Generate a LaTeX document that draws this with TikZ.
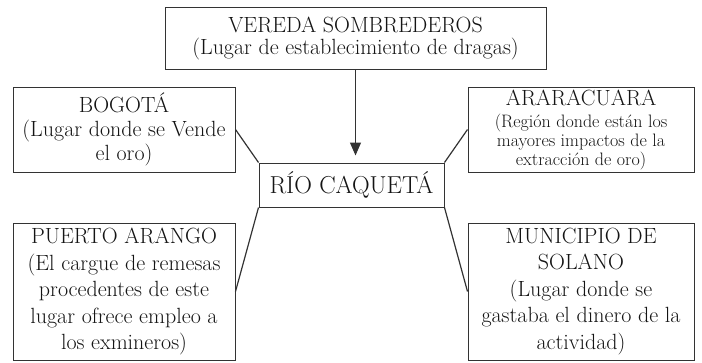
\documentclass[tikz,border=0pt]{standalone}
\usetikzlibrary{arrows.meta}

\tikzset{every picture/.style={line width=1pt}}
\tikzset{
  lugar/.style={draw={rgb,255:red,51;green,51;blue,51}, rectangle, inner sep=0pt, align=center,
    text={rgb,255:red,20;green,20;blue,20}, font=\fontsize{22}{24}\selectfont},
  enlace/.style={draw={rgb,255:red,51;green,51;blue,51}, line width=1.2pt}
}

\begin{document}
\begin{tikzpicture}[x=1pt,y=1pt,yscale=-1,xscale=1]
\useasboundingbox (0,0) rectangle (702,362);

%Shape: Rectangle [vereda]
\node [lugar, minimum width=381, minimum height=62, font=\fontsize{22}{22}\selectfont] (vereda) at (355.5,38) {VEREDA SOMBREDEROS\\(Lugar de establecimiento de dragas)};
%Shape: Rectangle [bogota]
\node [lugar, minimum width=222, minimum height=85] (bogota) at (124,129.5) {BOGOT\'A\\(Lugar donde se Vende\\el oro)};
%Shape: Rectangle [araracuara]
\node [lugar, minimum width=226, minimum height=85] (araracuara) at (581,129.5) {ARARACUARA\\[-2pt]{\fontsize{18}{18}\selectfont (Regi\'on donde est\'an los}\\[-5pt]{\fontsize{18}{18}\selectfont mayores impactos de la}\\[-5pt]{\fontsize{18}{18}\selectfont extracci\'on de oro)}};
%Shape: Rectangle [rio]
\node [lugar, minimum width=185, minimum height=44, font=\fontsize{24.5}{26}\selectfont] (rio) at (351.5,185) {R\'IO CAQUET\'A};
%Shape: Rectangle [puerto]
\node [lugar, minimum width=222, minimum height=137, font=\fontsize{22}{26.5}\selectfont] (puerto) at (124,291.5) {PUERTO ARANGO\\(El cargue de remesas\\procedentes de este\\lugar ofrece empleo a\\los exmineros)};
%Shape: Rectangle [municipio]
\node [lugar, minimum width=226, minimum height=137, font=\fontsize{22}{26.5}\selectfont] (municipio) at (581,291.5) {MUNICIPIO DE\\SOLANO\\(Lugar donde se\\gastaba el dinero de la\\actividad)};

%Straight Lines
\draw [enlace, -{Triangle[length=13pt,width=11pt]}, shorten >=7pt] (vereda.south) -- (vereda.south |- rio.north);
\draw [enlace] (bogota.east) -- (rio.north west);
\draw [enlace] (araracuara.west) -- (rio.north east);
\draw [enlace] (rio.south west) -- (puerto.east);
\draw [enlace] (rio.south east) -- (municipio.west);

\end{tikzpicture}
\end{document}
